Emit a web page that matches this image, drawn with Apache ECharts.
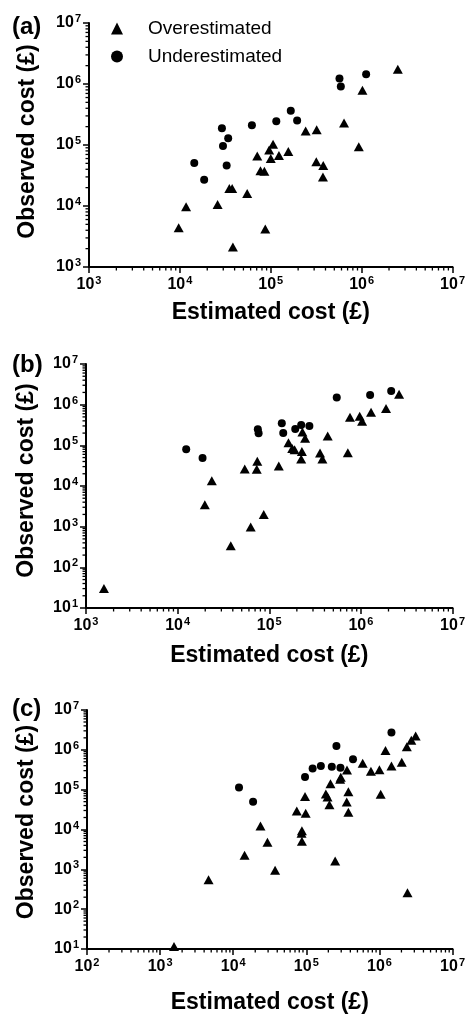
<!DOCTYPE html>
<html><head><meta charset="utf-8">
<script src="https://cdn.jsdelivr.net/npm/echarts@6/dist/echarts.min.js"></script>
<style>html,body{margin:0;padding:0;background:#fff}#c{width:468px;height:1015px}</style>
</head><body><div id="c"></div>
<script>
const panelLabels = ['(a)', '(b)', '(c)'];
const seriesNames = ['Overestimated', 'Underestimated'];
const xAxisName = 'Estimated cost (£)';
const yAxisName = 'Observed cost (£)';
const xRanges = [[1e3, 1e7], [1e3, 1e7], [1e2, 1e7]];
const yRanges = [[1e3, 1e7], [1e1, 1e7], [1e1, 1e7]];

// Panel (a)
const aOver = [[9.7e3,4.4e3],[1.17e4,9.7e3],[2.6e4,1.06e4],[3.5e4,1.94e4],[3.76e4,1.94e4],[3.83e4,2.13e3],[5.5e4,1.6e4],[7.1e4,6.6e4],[7.7e4,3.8e4],[8.5e4,3.7e4],[8.7e4,4.2e3],[9.6e4,8.3e4],[1.0e5,6.0e4],[1.06e5,1.03e5],[1.23e5,6.7e4],[1.56e5,7.8e4],[2.42e5,1.7e5],[3.2e5,1.77e5],[3.17e5,5.3e4],[3.78e5,4.6e4],[3.75e5,3.0e4],[6.4e5,2.3e5],[9.3e5,9.4e4],[1.02e6,7.9e5],[2.5e6,1.75e6]];
const aUnder = [[1.44e4,5.06e4],[1.85e4,2.69e4],[2.9e4,1.88e5],[2.98e4,9.6e4],[3.4e4,1.29e5],[3.27e4,4.6e4],[6.2e4,2.1e5],[1.15e5,2.45e5],[1.66e5,3.66e5],[1.95e5,2.51e5],[5.7e5,1.23e6],[5.9e5,9.1e5],[1.12e6,1.45e6]];
// Panel (b)
const bOver = [[1.57e3,30],[1.98e4,3.47e3],[2.36e4,1.35e4],[3.8e4,341],[5.4e4,2.6e4],[6.27e4,982],[7.4e4,4.05e4],[7.3e4,2.57e4],[8.7e4,2.0e3],[1.27e5,3.1e4],[1.62e5,1.16e5],[1.78e5,8.3e4],[1.89e5,7.8e4],[2.23e5,4.6e4],[2.27e5,7.1e4],[2.3e5,2.13e5],[2.46e5,1.49e5],[3.58e5,6.5e4],[3.8e5,4.6e4],[4.34e5,1.7e5],[7.2e5,6.6e4],[7.6e5,4.9e5],[9.7e5,5.2e5],[1.03e6,3.9e5],[1.29e6,6.5e5],[1.88e6,8.1e5],[2.61e6,1.8e6]];
const bUnder = [[1.24e4,8.0e4],[1.87e4,4.9e4],[7.5e4,2.47e5],[7.65e4,1.97e5],[1.37e5,3.47e5],[1.42e5,2.0e5],[1.92e5,2.52e5],[2.23e5,3.16e5],[2.74e5,2.98e5],[5.45e5,1.49e6],[1.26e6,1.73e6],[2.14e6,2.17e6]];
// Panel (c)
const cOver = [[1.55e3,11.6],[4.6e3,547],[1.43e4,2.25e3],[2.36e4,1.23e4],[2.94e4,4.8e3],[3.74e4,944],[7.4e4,2.93e4],[8.6e4,8.1e3],[8.7e4,9.3e3],[8.7e4,5.1e3],[9.6e4,6.7e4],[9.8e4,2.57e4],[1.85e5,7.8e4],[1.95e5,6.5e4],[2.07e5,4.2e4],[2.14e5,1.41e5],[2.48e5,1.63e3],[2.9e5,1.83e5],[2.96e5,2.05e5],[3.6e5,3.1e5],[3.57e5,4.9e4],[3.76e5,8.9e4],[3.76e5,2.7e4],[5.9e5,4.6e5],[7.65e5,2.9e5],[1.0e6,3.16e5],[1.04e6,7.7e4],[1.21e6,9.6e5],[1.46e6,3.9e5],[2.02e6,4.9e5],[2.37e6,1.19e6],[2.42e6,257],[2.73e6,1.73e6],[3.13e6,2.21e6]];
const cUnder = [[1.2e4,1.14e5],[1.87e4,4.98e4],[9.6e4,2.09e5],[1.22e5,3.41e5],[1.58e5,3.9e5],[2.23e5,3.75e5],[2.58e5,1.25e6],[2.93e5,3.54e5],[4.35e5,5.78e5],[1.46e6,2.72e6]];

const overData = [aOver, bOver, cOver];
const underData = [aUnder, bUnder, cUnder];

const FONT = 'Arial, "Liberation Sans", Helvetica, sans-serif';
const grids = [
  {left: 89, right: 11, top: 23, height: 244},
  {left: 86, right: 14, top: 364, height: 244},
  {left: 87, right: 14, top: 710, height: 244}
];
const xNameGaps = [34, 36, 42];
const yNameGaps = [50, 48, 49];
const yNameShift = [7, 11, 15];
const titleTops = [15, 353, 697];

function labelFmt(v) {
  const e = Math.round(Math.log10(v));
  return '{b|10}{s|' + e + '}';
}
const labelRich = {
  b: {fontSize: 16, fontWeight: 'bold', color: '#000', fontFamily: FONT},
  s: {fontSize: 11, fontWeight: 'bold', color: '#000', fontFamily: FONT, padding: [0, 0, 8, 1]}
};
function minorVals(lo, hi) {
  const out = [];
  for (let e = Math.round(Math.log10(lo)); e < Math.round(Math.log10(hi)); e++) {
    for (let m = 2; m <= 9; m++) out.push(m * Math.pow(10, e));
  }
  return out;
}

const xAxes = [], yAxes = [], series = [], titles = [];
for (let i = 0; i < 3; i++) {
  const axisCommon = {
    type: 'log', logBase: 10,
    axisLine: {show: true, onZero: false, lineStyle: {color: '#000', width: 2}},
    axisTick: {show: true, inside: false, length: 6, lineStyle: {color: '#000', width: 1.5}},
    splitLine: {show: false},
    axisLabel: {formatter: labelFmt, rich: labelRich, margin: 8},
    nameLocation: 'middle',
    nameTextStyle: {fontSize: 23, fontWeight: 'bold', color: '#000', fontFamily: FONT}
  };
  xAxes.push(Object.assign({}, axisCommon, {
    gridIndex: i, min: xRanges[i][0], max: xRanges[i][1],
    name: xAxisName, nameGap: xNameGaps[i]
  }));
  yAxes.push(Object.assign({}, axisCommon, {
    gridIndex: i, min: yRanges[i][0], max: yRanges[i][1],
    name: yAxisName, nameGap: yNameGaps[i],
    nameTextStyle: Object.assign({}, axisCommon.nameTextStyle, {padding: [0, 0, 0, yNameShift[i]]})
  }));
  series.push({
    name: seriesNames[0], type: 'scatter', xAxisIndex: i, yAxisIndex: i,
    symbol: 'triangle', symbolSize: [10, 9], itemStyle: {color: '#000', opacity: 1},
    data: overData[i], z: 5
  });
  series.push({
    name: seriesNames[1], type: 'scatter', xAxisIndex: i, yAxisIndex: i,
    symbol: 'circle', symbolSize: 8, itemStyle: {color: '#000', opacity: 1},
    data: underData[i], z: 5
  });
  const ymin = yRanges[i][0], xmin = xRanges[i][0];
  series.push({
    type: 'custom', xAxisIndex: i, yAxisIndex: i, silent: true, clip: false, z: 4,
    data: minorVals(xRanges[i][0], xRanges[i][1]).map(v => [v, ymin]),
    renderItem: function (params, api) {
      const p = api.coord([api.value(0), api.value(1)]);
      return {type: 'line', shape: {x1: p[0], y1: p[1], x2: p[0], y2: p[1] + 3.5},
        style: {stroke: '#000', lineWidth: 1.3}};
    }
  });
  series.push({
    type: 'custom', xAxisIndex: i, yAxisIndex: i, silent: true, clip: false, z: 4,
    data: minorVals(yRanges[i][0], yRanges[i][1]).map(v => [xmin, v]),
    renderItem: function (params, api) {
      const p = api.coord([api.value(0), api.value(1)]);
      return {type: 'line', shape: {x1: p[0] - 3.5, y1: p[1], x2: p[0], y2: p[1]},
        style: {stroke: '#000', lineWidth: 1.3}};
    }
  });
  titles.push({
    text: panelLabels[i], left: 12, top: titleTops[i], padding: 0,
    textStyle: {fontSize: 24, fontWeight: 'bold', color: '#000', fontFamily: FONT}
  });
}

const chart = echarts.init(document.getElementById('c'), null, {renderer: 'canvas'});
chart.setOption({
  animation: false,
  backgroundColor: '#fff',
  title: titles,
  grid: grids,
  xAxis: xAxes,
  yAxis: yAxes,
  legend: {
    data: seriesNames, orient: 'vertical', left: 111, top: 19,
    itemWidth: 12, itemHeight: 12, itemGap: 9, padding: 0,
    itemStyle: {opacity: 1},
    textStyle: {fontSize: 19, color: '#000', fontFamily: FONT, padding: [0, 0, 0, 20]}
  },
  series: series
});
</script>
</body></html>
